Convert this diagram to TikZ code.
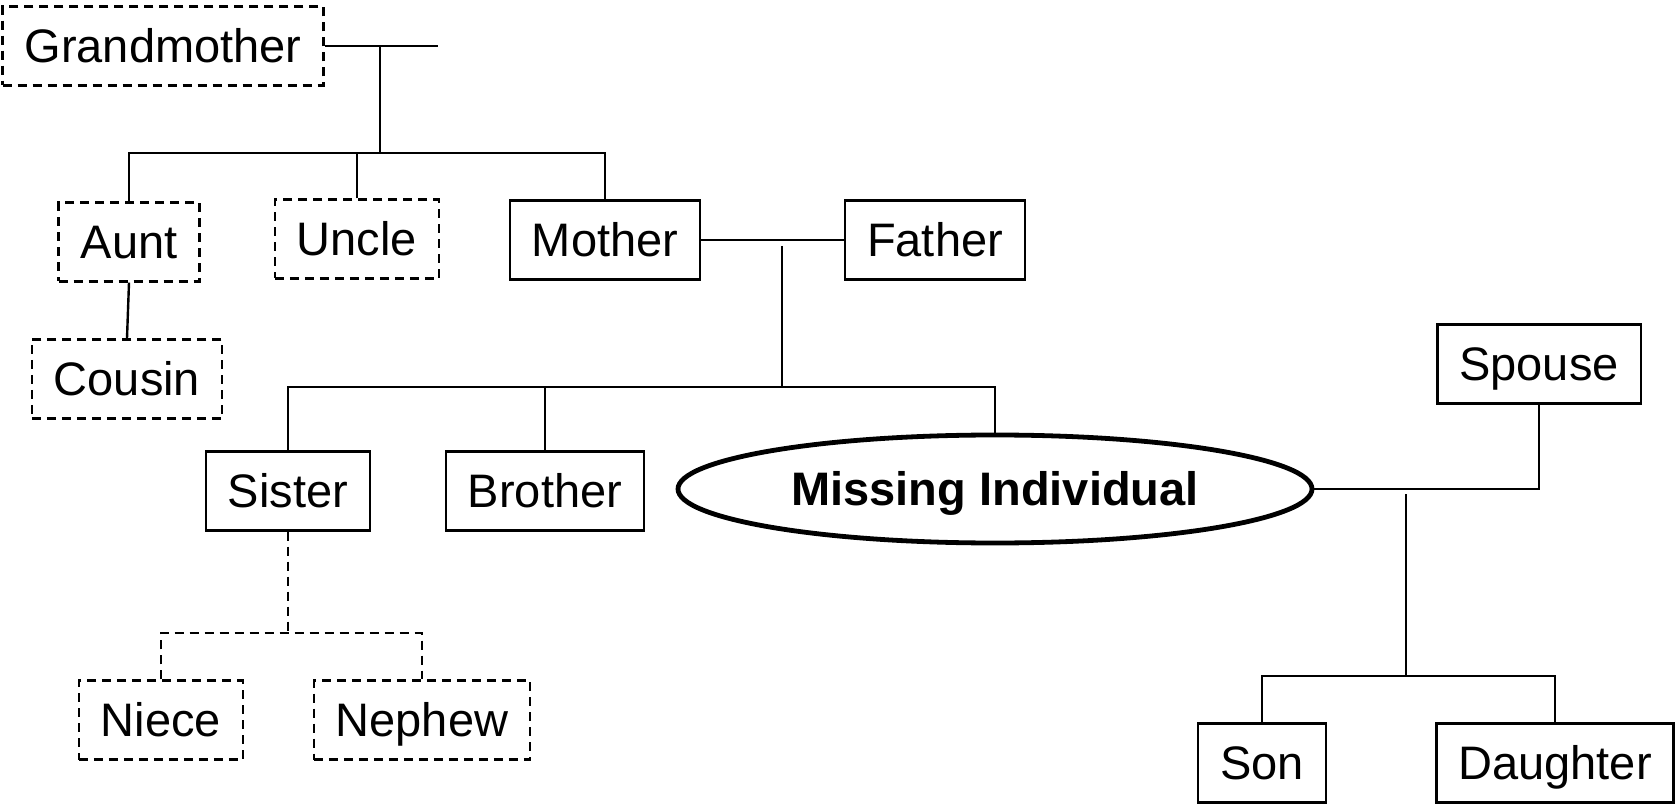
\documentclass[tikz,border=0pt]{standalone}
\usepackage{fontspec}
\setmainfont{Liberation Sans}
\usetikzlibrary{shapes.geometric}

\begin{document}
\begin{tikzpicture}[x=0.5pt,y=-0.5pt,line width=1.2pt,
  main node/.style={rectangle,draw,font=\fontsize{23.5}{28}\selectfont,
  inner xsep=11pt,inner ysep=0pt,minimum height=39.5pt,
  text height=16.8pt,text depth=0pt},
  far node/.style={main node,dashed link},
  dashed link/.style={dash pattern=on 4.5pt off 3pt},
  missing node/.style={ellipse,draw,line width=2.4pt,inner sep=0pt,
  minimum width=317pt,minimum height=54pt,text height=16.8pt,text depth=0pt,
  font=\fontsize{23.5}{28}\selectfont\bfseries}]

  \useasboundingbox (0,0) rectangle (1675,807);

  \node[far node] (gm) at (163,46) {Grandmother};
  \node[far node] (aunt) at (129,242) {Aunt};
  \node[far node] (uncle) at (357,239) {Uncle};
  \node[main node] (mother) at (605,240) {Mother};
  \node[main node] (father) at (935,240) {Father};
  \node[far node] (cousin) at (127,379) {Cousin};
  \node[main node] (sister) at (288,491) {Sister};
  \node[main node] (brother) at (545,491) {Brother};
  \node[missing node] (mi) at (995,489) {Missing Individual};
  \node[main node] (spouse) at (1539,364) {Spouse};
  \node[main node] (son) at (1262,763) {Son};
  \node[main node] (daughter) at (1555,763) {Daughter};
  \node[far node] (niece) at (161,720) {Niece};
  \node[far node] (nephew) at (422,720) {Nephew};

  % couple lines and the points where children hang from them
  \coordinate (gf) at (438,46);
  \coordinate (gmtop) at (380,46);
  \coordinate (gmkids) at (380,153);
  \coordinate (mftop) at (782,246);
  \coordinate (mfkids) at (782,387);
  \coordinate (mstop) at (1406,494);
  \coordinate (mskids) at (1406,676);
  \coordinate (sikids) at (288,633);

  \draw (gm) -- (gf);
  \draw (gmtop) -- (gmkids);
  \draw (aunt.north) |- (gmkids) -| (mother.north);
  \draw (uncle.north) -- (uncle.north |- gmkids);
  \draw (aunt.south) -- (cousin.north);

  \draw (mother) -- (father);
  \draw (mftop) -- (mfkids);
  \draw (sister.north) |- (mfkids) -| (mi.north);
  \draw (brother.north) -- (brother.north |- mfkids);

  \draw (mi.east) -| (spouse.south);
  \draw (mstop) -- (mskids);
  \draw (son.north) |- (mskids) -| (daughter.north);

  \draw[dashed link] (sister.south) -- (sikids);
  \draw[dashed link] (niece.north) |- (sikids) -| (nephew.north);
\end{tikzpicture}
\end{document}
